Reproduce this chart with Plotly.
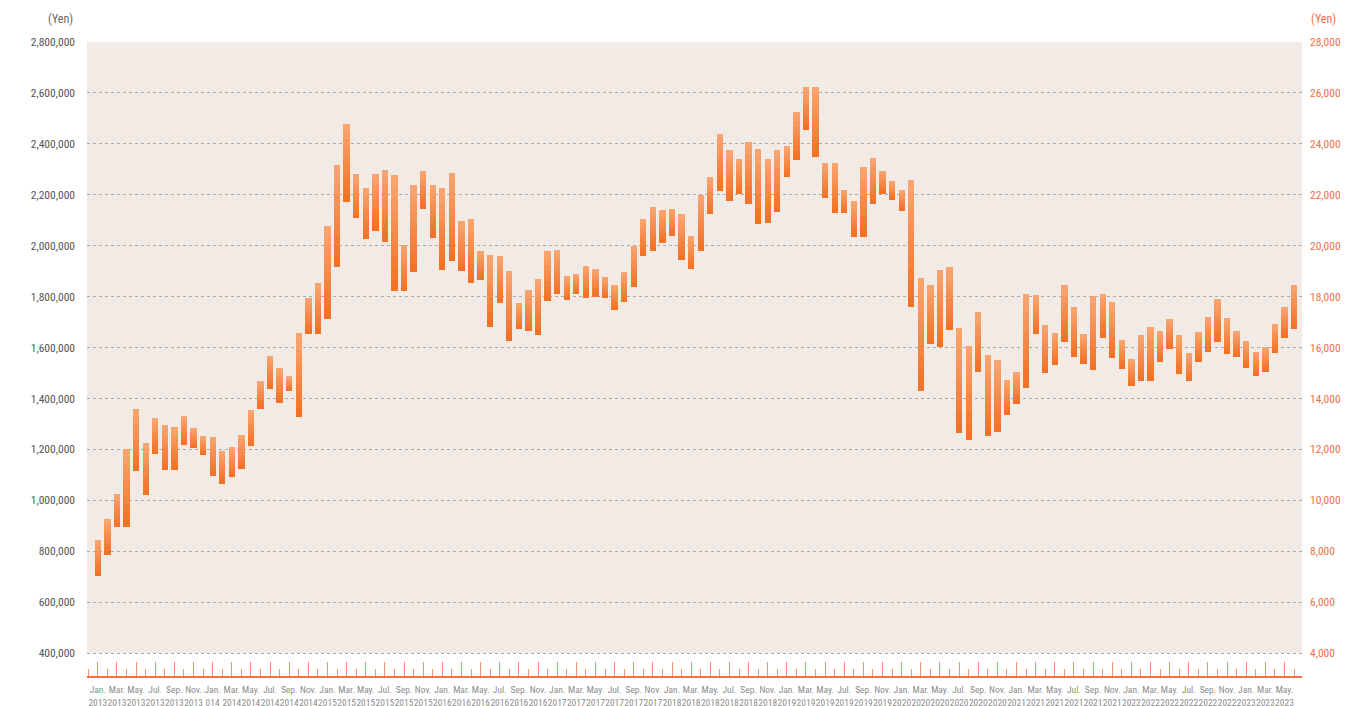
import plotly.graph_objects as go

# ---- data (yen), monthly Jan 2013 .. Jun 2023 ----
months_per_year = ["Jan.", "Feb.", "Mar.", "Apr.", "May.", "Jun.", "Jul.", "Aug.", "Sep.", "Oct.", "Nov.", "Dec."]
years = list(range(2013, 2024))
n_months = 126

highs = [
    844000, 926000, 1025000, 1200000, 1359000, 1225000, 1323000, 1296000, 1288000, 1331000, 1284000, 1253000,
    1249000, 1194000, 1209000, 1257000, 1355000, 1469000, 1567000, 1520000, 1488000, 1657000, 1795000, 1854000,
    2078000, 2317000, 2479000, 2282000, 2227000, 2282000, 2298000, 2278000, 2003000, 2239000, 2294000, 2239000,
    2227000, 2286000, 2097000, 2105000, 1980000, 1964000, 1960000, 1901000, 1775000, 1826000, 1870000, 1980000,
    1983000, 1881000, 1889000, 1921000, 1909000, 1877000, 1846000, 1897000, 1999000, 2105000, 2152000, 2141000,
    2145000, 2125000, 2039000, 2200000, 2271000, 2440000, 2377000, 2342000, 2409000, 2381000, 2342000, 2377000,
    2393000, 2527000, 2625000, 2625000, 2326000, 2326000, 2220000, 2176000, 2310000, 2346000, 2294000, 2255000,
    2220000, 2259000, 1874000, 1846000, 1905000, 1917000, 1677000, 1606000, 1740000, 1571000, 1551000, 1473000,
    1504000, 1811000, 1807000, 1689000, 1657000, 1846000, 1760000, 1653000, 1803000, 1811000, 1779000, 1630000,
    1555000, 1650000, 1681000, 1665000, 1712000, 1650000, 1579000, 1661000, 1720000, 1791000, 1716000, 1665000,
    1626000, 1583000, 1602000, 1693000, 1760000, 1846000,
]
lows = [
    704000, 786000, 896000, 896000, 1116000, 1022000, 1183000, 1120000, 1120000, 1219000, 1207000, 1179000,
    1097000, 1065000, 1093000, 1124000, 1215000, 1360000, 1439000, 1384000, 1431000, 1329000, 1655000, 1655000,
    1714000, 1918000, 2173000, 2107000, 2028000, 2059000, 2016000, 1824000, 1824000, 1898000, 2146000, 2032000,
    1906000, 1938000, 1902000, 1855000, 1867000, 1682000, 1773000, 1627000, 1674000, 1666000, 1651000, 1784000,
    1812000, 1788000, 1812000, 1796000, 1800000, 1796000, 1749000, 1777000, 1839000, 1961000, 1981000, 2012000,
    2040000, 1942000, 1910000, 1981000, 2123000, 2213000, 2174000, 2205000, 2162000, 2087000, 2091000, 2134000,
    2268000, 2335000, 2453000, 2347000, 2186000, 2130000, 2127000, 2036000, 2036000, 2162000, 2205000, 2182000,
    2138000, 1761000, 1431000, 1615000, 1604000, 1667000, 1266000, 1238000, 1505000, 1254000, 1269000, 1336000,
    1380000, 1442000, 1655000, 1501000, 1533000, 1623000, 1561000, 1535000, 1513000, 1639000, 1557000, 1517000,
    1450000, 1470000, 1470000, 1545000, 1596000, 1498000, 1470000, 1545000, 1584000, 1623000, 1576000, 1564000,
    1521000, 1490000, 1505000, 1580000, 1639000, 1674000,
]

left_ticks = list(range(400000, 2800001, 200000))
right_ticks = list(range(4000, 28001, 2000))

# tick labels every two months (as printed on the original, incl. its "014")
label_idx = list(range(0, n_months, 2))
tick_text = []
for i in label_idx:
    m = months_per_year[i % 12]
    y = str(years[i // 12])
    if i == 12:
        y = "014"
    tick_text.append(f"{m}<br>{y}")
minor_idx = [-1] + list(range(1, n_months, 2))

x = list(range(n_months))
spans = [h - l for h, l in zip(highs, lows)]

FONT = "Roboto Condensed, DejaVu Sans Condensed, sans-serif"
ORANGE = "#F0703F"

# vertical colour gradient of each bar: dark at the low end, light at the high end
grad_dark = (243, 111, 34)
grad_light = (249, 166, 115)
n_seg = 10

fig = go.Figure()
for k in range(n_seg):
    t = (k + 0.5) / n_seg
    c = tuple(round(d + (l - d) * t) for d, l in zip(grad_dark, grad_light))
    fig.add_trace(go.Bar(
        x=x, y=[s / n_seg for s in spans], base=[l + s * k / n_seg for l, s in zip(lows, spans)],
        width=0.66, marker=dict(color=f"rgb{c}", line=dict(width=0)),
        showlegend=False, hoverinfo="skip",
    ))
# empty trace to activate the right axis
fig.add_trace(go.Scatter(x=[0], y=[None], yaxis="y2", showlegend=False, hoverinfo="skip"))

y_lo = 310000
fig.update_layout(
    width=1370, height=706,
    margin=dict(l=87, r=68, t=42, b=30, autoexpand=False),
    paper_bgcolor="white", plot_bgcolor="white",
    barmode="overlay", bargap=0,
    font=dict(family=FONT),
    xaxis=dict(
        range=[-1.13, 125.83], tickmode="array", tickvals=label_idx, ticktext=tick_text,
        tickangle=0, ticks="inside", ticklen=14, tickwidth=1, tickcolor="#F39272",
        showline=True, linecolor=ORANGE, linewidth=1.5, showgrid=False, zeroline=False,
        ticklabelstandoff=4, automargin=False,
        tickfont=dict(size=9.5, color="#8C8C8C", family=FONT),
        minor=dict(tickmode="array", tickvals=minor_idx, ticks="inside", ticklen=7,
                   tickwidth=1, tickcolor="#F39272", showgrid=False),
    ),
    yaxis=dict(
        range=[y_lo, 2800000], tickmode="array", tickvals=left_ticks, tickformat=",d",
        showgrid=True, gridcolor="#ABABAB", griddash="dot", gridwidth=1,
        zeroline=False, showline=False, ticks="", ticklabelstandoff=11, automargin=False,
        tickfont=dict(size=11.5, color="#555555", family=FONT),
    ),
    yaxis2=dict(
        overlaying="y", side="right", range=[y_lo / 100, 28000],
        tickmode="array", tickvals=right_ticks, tickformat=",d",
        showgrid=False, zeroline=False, showline=False, ticks="", ticklabelstandoff=7,
        automargin=False,
        tickfont=dict(size=11.5, color=ORANGE, family=FONT),
    ),
    shapes=[dict(type="rect", xref="x domain", yref="y", x0=0, x1=1, y0=400000, y1=2800000,
                 fillcolor="#F2EBE5", line=dict(width=0), layer="below")],
    annotations=[
        dict(text="(Yen)", xref="paper", yref="paper", x=-12 / 1215, y=(676 - 19) / 634,
             xanchor="right", yanchor="middle", showarrow=False,
             font=dict(size=12, color="#666666", family=FONT)),
        dict(text="(Yen)", xref="paper", yref="paper", x=1 + 7 / 1215, y=(676 - 19) / 634,
             xanchor="left", yanchor="middle", showarrow=False,
             font=dict(size=12, color=ORANGE, family=FONT)),
    ],
)

fig.write_html("out.html", config={"displayModeBar": False},
               post_script="document.body.style.margin='0';")
